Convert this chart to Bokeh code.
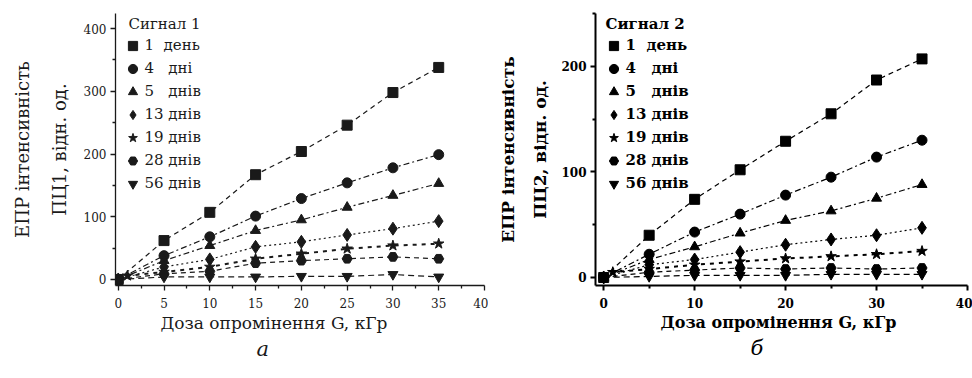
from bokeh.plotting import figure
from bokeh.layouts import row
from bokeh.models import Label, Legend, LegendItem, FixedTicker, Range1d, Title
from bokeh.embed import file_html
from bokeh.resources import INLINE

# ---------------- data ----------------
dose = [0, 5, 10, 15, 20, 25, 30, 35]
dose_19 = [0, 1, 5, 10, 15, 20, 25, 30, 35]

legend_labels = ["1\u00a0\u00a0день", "4\u00a0\u00a0\u00a0дні", "5\u00a0\u00a0\u00a0днів",
                 "13 днів", "19 днів", "28 днів", "56 днів"]

# Signal 1 (panel a)
s1_1d = [0, 62, 107, 167, 204, 246, 298, 338]
s1_4d = [0, 38, 68, 101, 129, 154, 178, 199]
s1_5d = [0, 30, 54, 78, 95, 115, 134, 153]
s1_13d = [0, 20, 32, 52, 60, 71, 81, 93]
s1_19d = [0, 6, 12, 20, 33, 41, 49, 54, 57]
s1_28d = [0, 9, 13, 26, 30, 33, 36, 33]
s1_56d = [0, 4, 4, 4, 5, 5, 8, 4]

# Signal 2 (panel б)
s2_1d = [0, 40, 74, 102, 129, 155, 187, 207]
s2_4d = [0, 22, 43, 60, 78, 95, 114, 130]
s2_5d = [0, 17, 29, 42, 54, 63, 75, 88]
s2_13d = [0, 12, 17, 24, 31, 36, 40, 47]
s2_19d = [0, 5, 8, 12, 15, 18, 20, 22, 25]
s2_28d = [0, 5, 7, 9, 8, 9, 8, 9]
s2_56d = [0, 1, 2, 2, 2, 3, 3, 3]

x1_ticks = [0, 5, 10, 15, 20, 25, 30, 35, 40]
x1_minor = [2.5, 7.5, 12.5, 17.5, 22.5, 27.5, 32.5, 37.5]
y1_ticks = [0, 100, 200, 300, 400]
y1_minor = [50, 150, 250, 350]
x2_ticks = [0, 10, 20, 30, 40]
x2_minor = [5, 15, 25, 35]
y2_ticks = [0, 100, 200]
y2_minor = [50, 150, 250]

markers = ["square", "circle", "triangle", "diamond", "star", "hex", "inverted_triangle"]
marker_sizes = [10, 10, 10, 13, 11, 10, 10]
dashes = ["5 4", "6 3 2 3", "6 3 2 3", "2 3", "4 5", "5 4", "6 4"]
line_widths = [1.2, 1.2, 1.2, 1.2, 2.0, 1.2, 1.2]

FONT = "DejaVu Serif"


def make_panel(width, border_left, frame_w, xr, yr, xt, xm, yt, ym, series, xs, bold,
               title, ylab2, letter, xlab_off, letter_off, leg_x, title_x, ink, axis_w,
               ylab_size, xlab_size, so_inner, so_outer):
    style = "bold" if bold else "normal"
    p = figure(width=width, height=378, x_range=Range1d(*xr), y_range=Range1d(*yr),
               output_backend="svg", toolbar_location=None,
               min_border_left=border_left, min_border_right=width - border_left - frame_w,
               min_border_top=13, min_border_bottom=93)
    p.outline_line_color = None
    p.xgrid.visible = False
    p.ygrid.visible = False
    p.background_fill_color = "white"
    p.border_fill_color = "white"

    p.xaxis.ticker = FixedTicker(ticks=xt, minor_ticks=xm)
    p.yaxis.ticker = FixedTicker(ticks=yt, minor_ticks=ym)
    for ax in (p.xaxis, p.yaxis):
        ax.axis_line_width = axis_w
        ax.axis_line_color = ink
        ax.major_tick_line_color = ink
        ax.minor_tick_line_color = ink
        ax.major_tick_line_width = axis_w
        ax.minor_tick_line_width = axis_w
        ax.major_tick_out = 5
        ax.major_tick_in = 0
        ax.minor_tick_out = 3
        ax.minor_tick_in = 0
        ax.major_label_text_font = FONT
        ax.major_label_text_font_size = "12px"
        ax.major_label_text_font_style = style
        ax.major_label_text_color = ink
    p.xaxis.major_label_standoff = 7
    p.yaxis.major_label_standoff = 4

    items = []
    for i, vals in enumerate(series):
        xv = xs[i]
        p.line(xv, vals, line_dash=dashes[i], line_width=line_widths[i], line_color=ink)
        r = p.scatter(xv, vals, marker=markers[i], size=marker_sizes[i],
                      fill_color=ink, line_color=ink)
        items.append(LegendItem(label=legend_labels[i], renderers=[r]))

    leg = Legend(items=items, orientation="vertical")
    leg.location = (leg_x, 90.5)
    leg.glyph_width = 25
    leg.glyph_height = 23
    leg.label_height = 23
    leg.spacing = 0
    leg.padding = 0
    leg.margin = 0
    leg.label_standoff = 0
    leg.border_line_alpha = 0
    leg.background_fill_alpha = 0
    leg.label_text_font = FONT
    leg.label_text_font_size = "15px"
    leg.label_text_font_style = style
    leg.label_text_color = ink
    p.add_layout(leg, "center")

    p.add_layout(Label(x=title_x, y=262, x_units="screen", y_units="screen", text=title,
                       text_font=FONT, text_font_size="15px", text_font_style=style,
                       text_color=ink, text_align="left", text_baseline="middle"))

    # y axis label: two lines, as titles in the left panel (inner one first)
    p.add_layout(Title(text=ylab2, align="center", offset=-5, text_font=FONT,
                       text_font_size=ylab_size, text_font_style=style, text_color=ink,
                       standoff=so_inner), "left")
    p.add_layout(Title(text="ЕПР інтенсивність", align="center", offset=-5, text_font=FONT,
                       text_font_size=ylab_size, text_font_style=style, text_color=ink,
                       standoff=so_outer), "left")

    # x axis label and panel letter, as titles below
    p.add_layout(Title(text="Доза опромінення G, кГр", align="left", offset=xlab_off,
                       text_font=FONT, text_font_size=xlab_size, text_font_style=style,
                       text_color=ink, standoff=0), "below")
    p.add_layout(Title(text=letter, align="left", offset=letter_off,
                       text_font=FONT, text_font_size="21px", text_font_style="italic",
                       text_color=ink, standoff=5), "below")
    return p


s1 = [s1_1d, s1_4d, s1_5d, s1_13d, s1_19d, s1_28d, s1_56d]
s2 = [s2_1d, s2_4d, s2_5d, s2_13d, s2_19d, s2_28d, s2_56d]
xs = [dose, dose, dose, dose, dose_19, dose, dose]

p1 = make_panel(488, 115, 369, (-0.3, 40), (-9.6, 424), x1_ticks, x1_minor, y1_ticks, y1_minor,
                s1, xs, False, "Сигнал 1", "ПЦ1, відн. од.", "а",
                45, 141, 4.5, 13, "#1a1a1a", 1.3, "18px", "17px", 22, 5)
p2 = make_panel(484, 107, 372, (-0.9, 40), (-7.6, 250), x2_ticks, x2_minor, y2_ticks, y2_minor,
                s2, xs, True, "Сигнал 2", "ПЦ2, відн. од.", "б",
                65, 155, 5.5, 10, "black", 2.0, "17px", "16px", 17, 4)

layout = row(p1, p2, spacing=0)
open("out.html", "w").write(file_html(layout, INLINE))
